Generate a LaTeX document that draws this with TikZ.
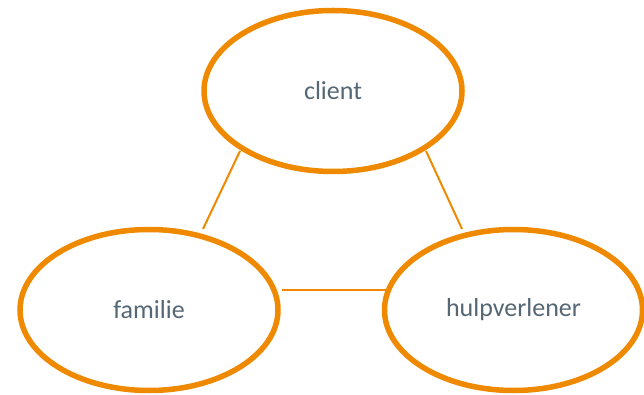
\documentclass[tikz,border=0pt]{standalone}
\usepackage{fontspec}
\setmainfont{Carlito}
\usetikzlibrary{shapes.geometric}
\definecolor{orng}{RGB}{238,137,0}
\definecolor{txt}{RGB}{85,102,116}
\begin{document}
\begin{tikzpicture}[x=1pt,y=-1pt,
  bubble/.style={ellipse,draw=orng,line width=5.5pt,minimum width=258pt,minimum height=161pt,inner sep=0pt,text=txt,font=\fontsize{26}{30}\selectfont},
  link/.style={draw=orng,line width=2pt}]
\useasboundingbox (0,0) rectangle (644,395);
\node[bubble] (c) at (333,91) {client};
\node[bubble] (f) at (149,310) {familie};
\node[bubble] (h) at (513.5,310) {hulpverlener};
\coordinate (c1) at (240,151);
\coordinate (f1) at (203,229);
\coordinate (c2) at (426,151);
\coordinate (h1) at (462,229);
\coordinate (f2) at (282,290);
\coordinate (h2) at (388,290);
\draw[link] (c1) -- (f1);
\draw[link] (c2) -- (h1);
\draw[link] (f2) -- (h2);
\end{tikzpicture}
\end{document}
